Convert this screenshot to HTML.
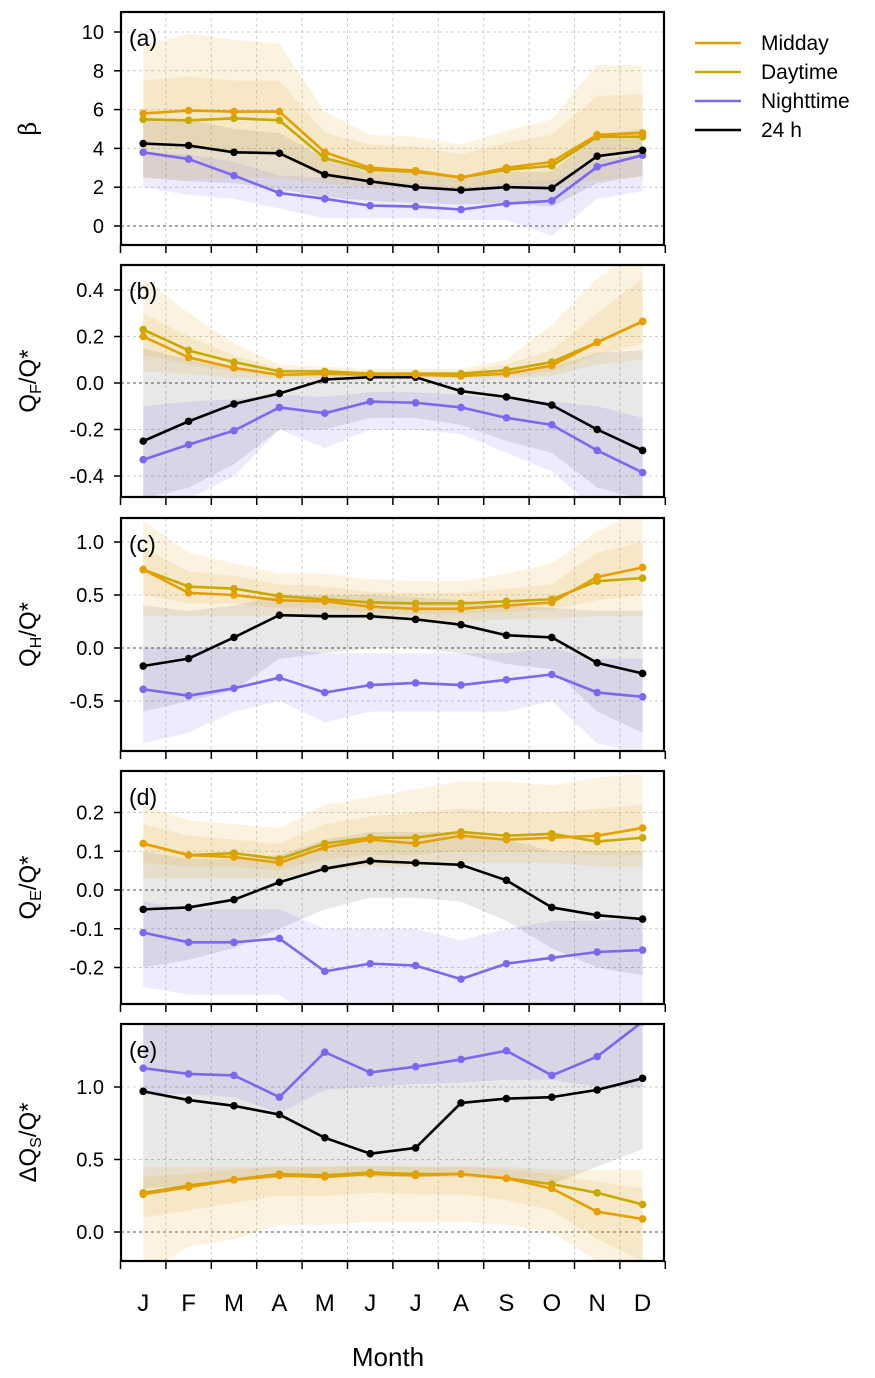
<!DOCTYPE html>
<html><head><meta charset="utf-8">
<style>
body{margin:0;background:#fff;}
svg{display:block;font-family:"Liberation Sans",sans-serif;}
</style></head>
<body>
<svg id="chart" width="875" height="1378" viewBox="0 0 875 1378" xmlns="http://www.w3.org/2000/svg"></svg>
<script>
const months = ["J","F","M","A","M","J","J","A","S","O","N","D"];
// Panel (a) beta
const aMidday = [5.8,5.95,5.9,5.9,3.8,3.0,2.85,2.5,3.0,3.3,4.7,4.8];
const aDaytime = [5.5,5.45,5.55,5.45,3.5,2.9,2.8,2.5,2.9,3.1,4.6,4.6];
const aNight = [3.8,3.45,2.6,1.7,1.4,1.05,1.0,0.85,1.15,1.3,3.05,3.65];
const a24h = [4.25,4.15,3.8,3.75,2.65,2.3,2.0,1.85,2.0,1.95,3.6,3.9];
const aGoldOuterHi = [9.3,9.9,9.6,9.4,5.9,4.7,4.6,4.2,4.9,5.5,8.3,8.3];
const aGoldOuterLo = [2.5,2.4,2.5,2.5,2.2,2.0,2.0,1.9,2.0,2.0,2.4,2.5];
const aGoldInnerHi = [7.5,7.7,7.5,7.5,4.8,4.2,4.1,3.7,4.3,4.7,6.7,6.8];
const aGoldInnerLo = [4.2,4.0,3.8,3.6,2.5,2.3,2.2,2.0,2.2,2.2,3.7,3.8];
const aGreyHi = [5.5,5.5,5.0,4.8,3.5,3.1,2.8,2.6,2.8,2.8,4.7,5.0];
const aGreyLo = [2.5,2.3,2.2,1.9,1.5,1.3,1.2,1.1,1.2,1.0,2.2,2.6];
const aPurpHi = [3.8,3.7,3.3,2.6,2.5,2.4,2.2,2.0,2.2,2.3,3.4,3.7];
const aPurpLo = [2.0,1.6,1.4,0.9,0.4,0.4,0.4,0.3,0.3,-0.5,1.4,1.8];
const aTicks = [0,2,4,6,8,10];
const aTickLabels = ["0","2","4","6","8","10"];
// Panel (b) QF/Q*
const bMidday = [0.20,0.11,0.065,0.035,0.04,0.035,0.035,0.03,0.04,0.075,0.175,0.265];
const bDaytime = [0.23,0.14,0.09,0.05,0.05,0.04,0.04,0.04,0.055,0.09,0.175,0.265];
const bNight = [-0.33,-0.265,-0.205,-0.105,-0.13,-0.08,-0.085,-0.105,-0.15,-0.18,-0.29,-0.385];
const b24h = [-0.25,-0.165,-0.09,-0.045,0.015,0.025,0.025,-0.035,-0.06,-0.095,-0.2,-0.29];
const bGoldOuterHi = [0.45,0.3,0.17,0.08,0.07,0.06,0.06,0.06,0.1,0.25,0.45,0.6];
const bGoldOuterLo = [0.05,0.04,0.02,0.02,0.02,0.02,0.02,0.02,0.02,0.03,0.08,0.1];
const bGoldInnerHi = [0.3,0.2,0.12,0.06,0.06,0.05,0.05,0.05,0.08,0.14,0.3,0.45];
const bGoldInnerLo = [0.12,0.08,0.05,0.03,0.03,0.03,0.03,0.03,0.03,0.05,0.12,0.17];
const bGreyHi = [0.15,0.1,0.06,0.04,0.04,0.04,0.04,0.04,0.05,0.07,0.13,0.14];
const bGreyLo = [-0.5,-0.45,-0.35,-0.2,-0.2,-0.15,-0.15,-0.18,-0.25,-0.3,-0.45,-0.5];
const bPurpHi = [-0.1,-0.08,-0.07,-0.05,-0.06,-0.04,-0.04,-0.05,-0.07,-0.08,-0.1,-0.15];
const bPurpLo = [-0.6,-0.5,-0.4,-0.2,-0.28,-0.2,-0.2,-0.22,-0.3,-0.38,-0.55,-0.6];
const bTicks = [-0.4,-0.2,0,0.2,0.4];
const bTickLabels = ["-0.4","-0.2","0.0","0.2","0.4"];
// Panel (c) QH/Q*
const cMidday = [0.74,0.52,0.50,0.45,0.44,0.39,0.37,0.37,0.40,0.43,0.67,0.76];
const cDaytime = [0.74,0.58,0.56,0.49,0.46,0.43,0.42,0.42,0.44,0.46,0.63,0.66];
const cNight = [-0.39,-0.45,-0.38,-0.28,-0.42,-0.35,-0.33,-0.35,-0.30,-0.25,-0.42,-0.46];
const c24h = [-0.17,-0.10,0.10,0.31,0.30,0.30,0.27,0.22,0.12,0.10,-0.14,-0.24];
const cGoldOuterHi = [1.2,0.9,0.8,0.7,0.7,0.65,0.63,0.63,0.7,0.8,1.1,1.3];
const cGoldOuterLo = [0.3,0.3,0.3,0.3,0.3,0.27,0.25,0.25,0.27,0.28,0.3,0.3];
const cGoldInnerHi = [0.95,0.72,0.68,0.6,0.58,0.53,0.52,0.52,0.56,0.6,0.9,1.0];
const cGoldInnerLo = [0.5,0.42,0.42,0.38,0.37,0.33,0.32,0.32,0.34,0.36,0.45,0.5];
const cGreyHi = [0.4,0.35,0.4,0.5,0.5,0.5,0.48,0.45,0.4,0.38,0.35,0.35];
const cGreyLo = [-0.6,-0.5,-0.4,-0.1,-0.05,0.0,0.0,-0.05,-0.15,-0.2,-0.6,-0.8];
const cPurpHi = [0,0,0,0,-0.05,-0.05,-0.05,-0.05,-0.05,0,-0.1,-0.1];
const cPurpLo = [-0.9,-0.8,-0.6,-0.5,-0.7,-0.6,-0.6,-0.6,-0.6,-0.5,-0.9,-1.0];
const cTicks = [-0.5,0,0.5,1.0];
const cTickLabels = ["-0.5","0.0","0.5","1.0"];
// Panel (d) QE/Q*
const dMidday = [0.12,0.09,0.085,0.07,0.11,0.13,0.12,0.14,0.13,0.135,0.14,0.16];
const dDaytime = [0.12,0.09,0.095,0.08,0.12,0.135,0.135,0.15,0.14,0.145,0.125,0.135];
const dNight = [-0.11,-0.135,-0.135,-0.125,-0.21,-0.19,-0.195,-0.23,-0.19,-0.175,-0.16,-0.155];
const d24h = [-0.05,-0.045,-0.025,0.02,0.055,0.075,0.07,0.065,0.025,-0.045,-0.065,-0.075];
const dGoldOuterHi = [0.22,0.18,0.17,0.16,0.22,0.24,0.26,0.28,0.28,0.27,0.29,0.3];
const dGoldOuterLo = [0.03,0.03,0.03,0.03,0.05,0.06,0.06,0.07,0.07,0.07,0.06,0.06];
const dGoldInnerHi = [0.17,0.14,0.13,0.12,0.17,0.19,0.2,0.21,0.2,0.2,0.21,0.22];
const dGoldInnerLo = [0.07,0.06,0.06,0.05,0.08,0.09,0.09,0.1,0.1,0.1,0.09,0.09];
const dGreyHi = [0.1,0.08,0.08,0.09,0.13,0.15,0.15,0.15,0.13,0.1,0.1,0.1];
const dGreyLo = [-0.2,-0.18,-0.15,-0.1,-0.05,-0.02,-0.02,-0.03,-0.08,-0.15,-0.2,-0.22];
const dPurpHi = [-0.03,-0.05,-0.05,-0.05,-0.1,-0.1,-0.1,-0.13,-0.1,-0.08,-0.08,-0.07];
const dPurpLo = [-0.25,-0.27,-0.27,-0.27,-0.35,-0.35,-0.35,-0.38,-0.35,-0.32,-0.3,-0.3];
const dTicks = [-0.2,-0.1,0,0.1,0.2];
const dTickLabels = ["-0.2","-0.1","0.0","0.1","0.2"];
// Panel (e) dQS/Q*
const eMidday = [0.26,0.31,0.36,0.39,0.38,0.40,0.39,0.40,0.37,0.30,0.14,0.09];
const eDaytime = [0.27,0.32,0.36,0.40,0.39,0.41,0.40,0.40,0.37,0.33,0.27,0.19];
const eNight = [1.13,1.09,1.08,0.93,1.24,1.10,1.14,1.19,1.25,1.08,1.21,1.45];
const e24h = [0.97,0.91,0.87,0.81,0.65,0.54,0.58,0.89,0.92,0.93,0.98,1.06];
const eGoldOuterHi = [0.45,0.45,0.45,0.45,0.45,0.45,0.45,0.45,0.45,0.43,0.43,0.43];
const eGoldOuterLo = [-0.3,-0.1,-0.05,0.05,0.05,0.07,0.07,0.07,0.05,0.0,-0.2,-0.3];
const eGoldInnerHi = [0.38,0.4,0.43,0.45,0.45,0.46,0.45,0.45,0.43,0.4,0.35,0.3];
const eGoldInnerLo = [0.1,0.15,0.2,0.25,0.25,0.27,0.26,0.26,0.22,0.15,-0.05,-0.2];
const eGreyHi = [1.5,1.5,1.5,1.5,1.5,1.5,1.5,1.5,1.5,1.5,1.5,1.5];
const eGreyLo = [0.3,0.32,0.35,0.37,0.38,0.38,0.38,0.38,0.36,0.33,0.45,0.57];
const ePurpHi = [1.6,1.6,1.6,1.6,1.6,1.6,1.6,1.6,1.6,1.6,1.6,1.6];
const ePurpLo = [0.95,0.95,0.93,0.82,0.98,1.0,1.02,1.03,1.05,1.05,1.0,1.0];
const eTicks = [0,0.5,1.0];
const eTickLabels = ["0.0","0.5","1.0"];

const NS="http://www.w3.org/2000/svg";
const svg=document.getElementById('chart');
function mk(tag,attrs,parent){const e=document.createElementNS(NS,tag);for(const k in attrs)e.setAttribute(k,attrs[k]);(parent||svg).appendChild(e);return e;}
const X0=120.5, MW=45.4, PL=121, PR=664;
function xs(i){return X0+MW*(i+0.5);}
const C={mid:"#E69F00",day:"#C9A800",night:"#7B68EE",h24:"#000"};

const panels=[
 {id:"a",top:12,bot:245,v0:0,p0:226,s:19.4,ticks:aTicks,tl:aTickLabels,mid:aMidday,day:aDaytime,night:aNight,h:a24h,goh:aGoldOuterHi,gol:aGoldOuterLo,gih:aGoldInnerHi,gil:aGoldInnerLo,grh:aGreyHi,grl:aGreyLo,ph:aPurpHi,pl:aPurpLo,title:"β"},
 {id:"b",top:265,bot:497,v0:0,p0:383,s:232.5,ticks:bTicks,tl:bTickLabels,mid:bMidday,day:bDaytime,night:bNight,h:b24h,goh:bGoldOuterHi,gol:bGoldOuterLo,gih:bGoldInnerHi,gil:bGoldInnerLo,grh:bGreyHi,grl:bGreyLo,ph:bPurpHi,pl:bPurpLo,title:"F"},
 {id:"c",top:518,bot:751,v0:0,p0:648,s:106,ticks:cTicks,tl:cTickLabels,mid:cMidday,day:cDaytime,night:cNight,h:c24h,goh:cGoldOuterHi,gol:cGoldOuterLo,gih:cGoldInnerHi,gil:cGoldInnerLo,grh:cGreyHi,grl:cGreyLo,ph:cPurpHi,pl:cPurpLo,title:"H"},
 {id:"d",top:771,bot:1004,v0:0,p0:890,s:387.5,ticks:dTicks,tl:dTickLabels,mid:dMidday,day:dDaytime,night:dNight,h:d24h,goh:dGoldOuterHi,gol:dGoldOuterLo,gih:dGoldInnerHi,gil:dGoldInnerLo,grh:dGreyHi,grl:dGreyLo,ph:dPurpHi,pl:dPurpLo,title:"E"},
 {id:"e",top:1024,bot:1261,v0:0,p0:1232,s:145,ticks:eTicks,tl:eTickLabels,mid:eMidday,day:eDaytime,night:eNight,h:e24h,goh:eGoldOuterHi,gol:eGoldOuterLo,gih:eGoldInnerHi,gil:eGoldInnerLo,grh:eGreyHi,grl:eGreyLo,ph:ePurpHi,pl:ePurpLo,title:"S"}
];

const defs=mk('defs',{});
panels.forEach(P=>{
  const ys=v=>P.p0-(v-P.v0)*P.s;
  const cp=mk('clipPath',{id:'clip-'+P.id},defs);
  mk('rect',{x:PL,y:P.top,width:PR-PL,height:P.bot-P.top},cp);
  const g=mk('g',{});
  
  
  const inner=mk('g',{'clip-path':'url(#clip-'+P.id+')'},g);
  for(let k=1;k<12;k++){const x=X0+MW*k;mk('line',{x1:x,x2:x,y1:P.top,y2:P.bot,stroke:'#ccc','stroke-width':1,'stroke-dasharray':'3,3'},inner);}
  P.ticks.forEach(t=>{const y=ys(t);mk('line',{x1:PL,x2:PR,y1:y,y2:y,stroke:t===0?'#555':'#ccc','stroke-width':1,'stroke-dasharray':'3,3'},inner);});
  function band(hi,lo,fill,name){
    let d='';
    hi.forEach((v,i)=>{d+=(i?'L':'M')+xs(i)+','+ys(v);});
    for(let i=lo.length-1;i>=0;i--)d+='L'+xs(i)+','+ys(lo[i]);
    const p=mk('path',{d:d+'Z',fill:fill},inner);
    
    
  }
  band(P.ph,P.pl,'rgba(123,104,238,0.13)','night-band-'+P.id);
  band(P.grh,P.grl,'rgba(0,0,0,0.09)','24h-band-'+P.id);
  band(P.goh,P.gol,'rgba(230,180,60,0.16)','gold-outer-band-'+P.id);
  band(P.gih,P.gil,'rgba(220,170,40,0.14)','gold-inner-band-'+P.id);
  function series(vals,col,name){
    const pts=vals.map((v,i)=>xs(i)+','+ys(v)).join(' ');
    const l=mk('polyline',{points:pts,fill:'none',stroke:col,'stroke-width':2.6,'stroke-linejoin':'round'},inner);
    
    
    vals.forEach((v,i)=>{const c=mk('circle',{cx:xs(i),cy:ys(v),r:3.8,fill:col},inner);
      
      });
  }
  series(P.night,C.night,'nighttime');
  series(P.h,C.h24,'24h');
  series(P.day,C.day,'daytime');
  series(P.mid,C.mid,'midday');
  mk('rect',{x:PL,y:P.top,width:PR-PL,height:P.bot-P.top,fill:'none',stroke:'#000','stroke-width':2.2},g);
  P.ticks.forEach((t,j)=>{const y=ys(t);
    mk('line',{x1:PL-7,x2:PL,y1:y,y2:y,stroke:'#000','stroke-width':1.5},g);
    const tx=mk('text',{x:104,y:y+7,'text-anchor':'end','font-size':20,fill:'#000'},g);tx.textContent=P.tl[j];
    
    });
  for(let k=0;k<=12;k++){const x=X0+MW*k;mk('line',{x1:x,x2:x,y1:P.bot,y2:P.bot+8,stroke:'#000','stroke-width':1.5},g);}
  const lab=mk('text',{x:129,y:P.top+34,'font-size':23,fill:'#000'},g);lab.textContent='('+P.id+')';
  
  
  const cy=(P.top+P.bot)/2;
  const tt=mk('text',{transform:'translate(36,'+cy+') rotate(-90)','text-anchor':'middle','font-size':24,fill:'#000'},g);
  
  
  if(P.title==='β'){tt.setAttribute('font-family','"DejaVu Serif",serif');tt.textContent='β';}
  else{
    const pre=P.title==='S'?'ΔQ':'Q';
    tt.innerHTML='<tspan>'+pre+'</tspan><tspan font-size="16" dy="5">'+P.title+'</tspan><tspan dy="-5">/Q*</tspan>';
  }
});
months.forEach((m,i)=>{const t=mk('text',{x:xs(i),y:1311,'text-anchor':'middle','font-size':24,fill:'#000'});t.textContent=m;
  
  });
const xt=mk('text',{x:388,y:1366,'text-anchor':'middle','font-size':26,fill:'#000'});xt.textContent='Month';


const leg=[["Midday",C.mid],["Daytime",C.day],["Nighttime",C.night],["24 h",C.h24]];
leg.forEach((l,i)=>{const y=43+29*i;
  const g=mk('g',{});
  
  
  mk('line',{x1:695,x2:741,y1:y,y2:y,stroke:l[1],'stroke-width':2.6},g);
  const t=mk('text',{x:761,y:y+7,'font-size':21,fill:'#000'},g);t.textContent=l[0];});
</script>
</body></html>
